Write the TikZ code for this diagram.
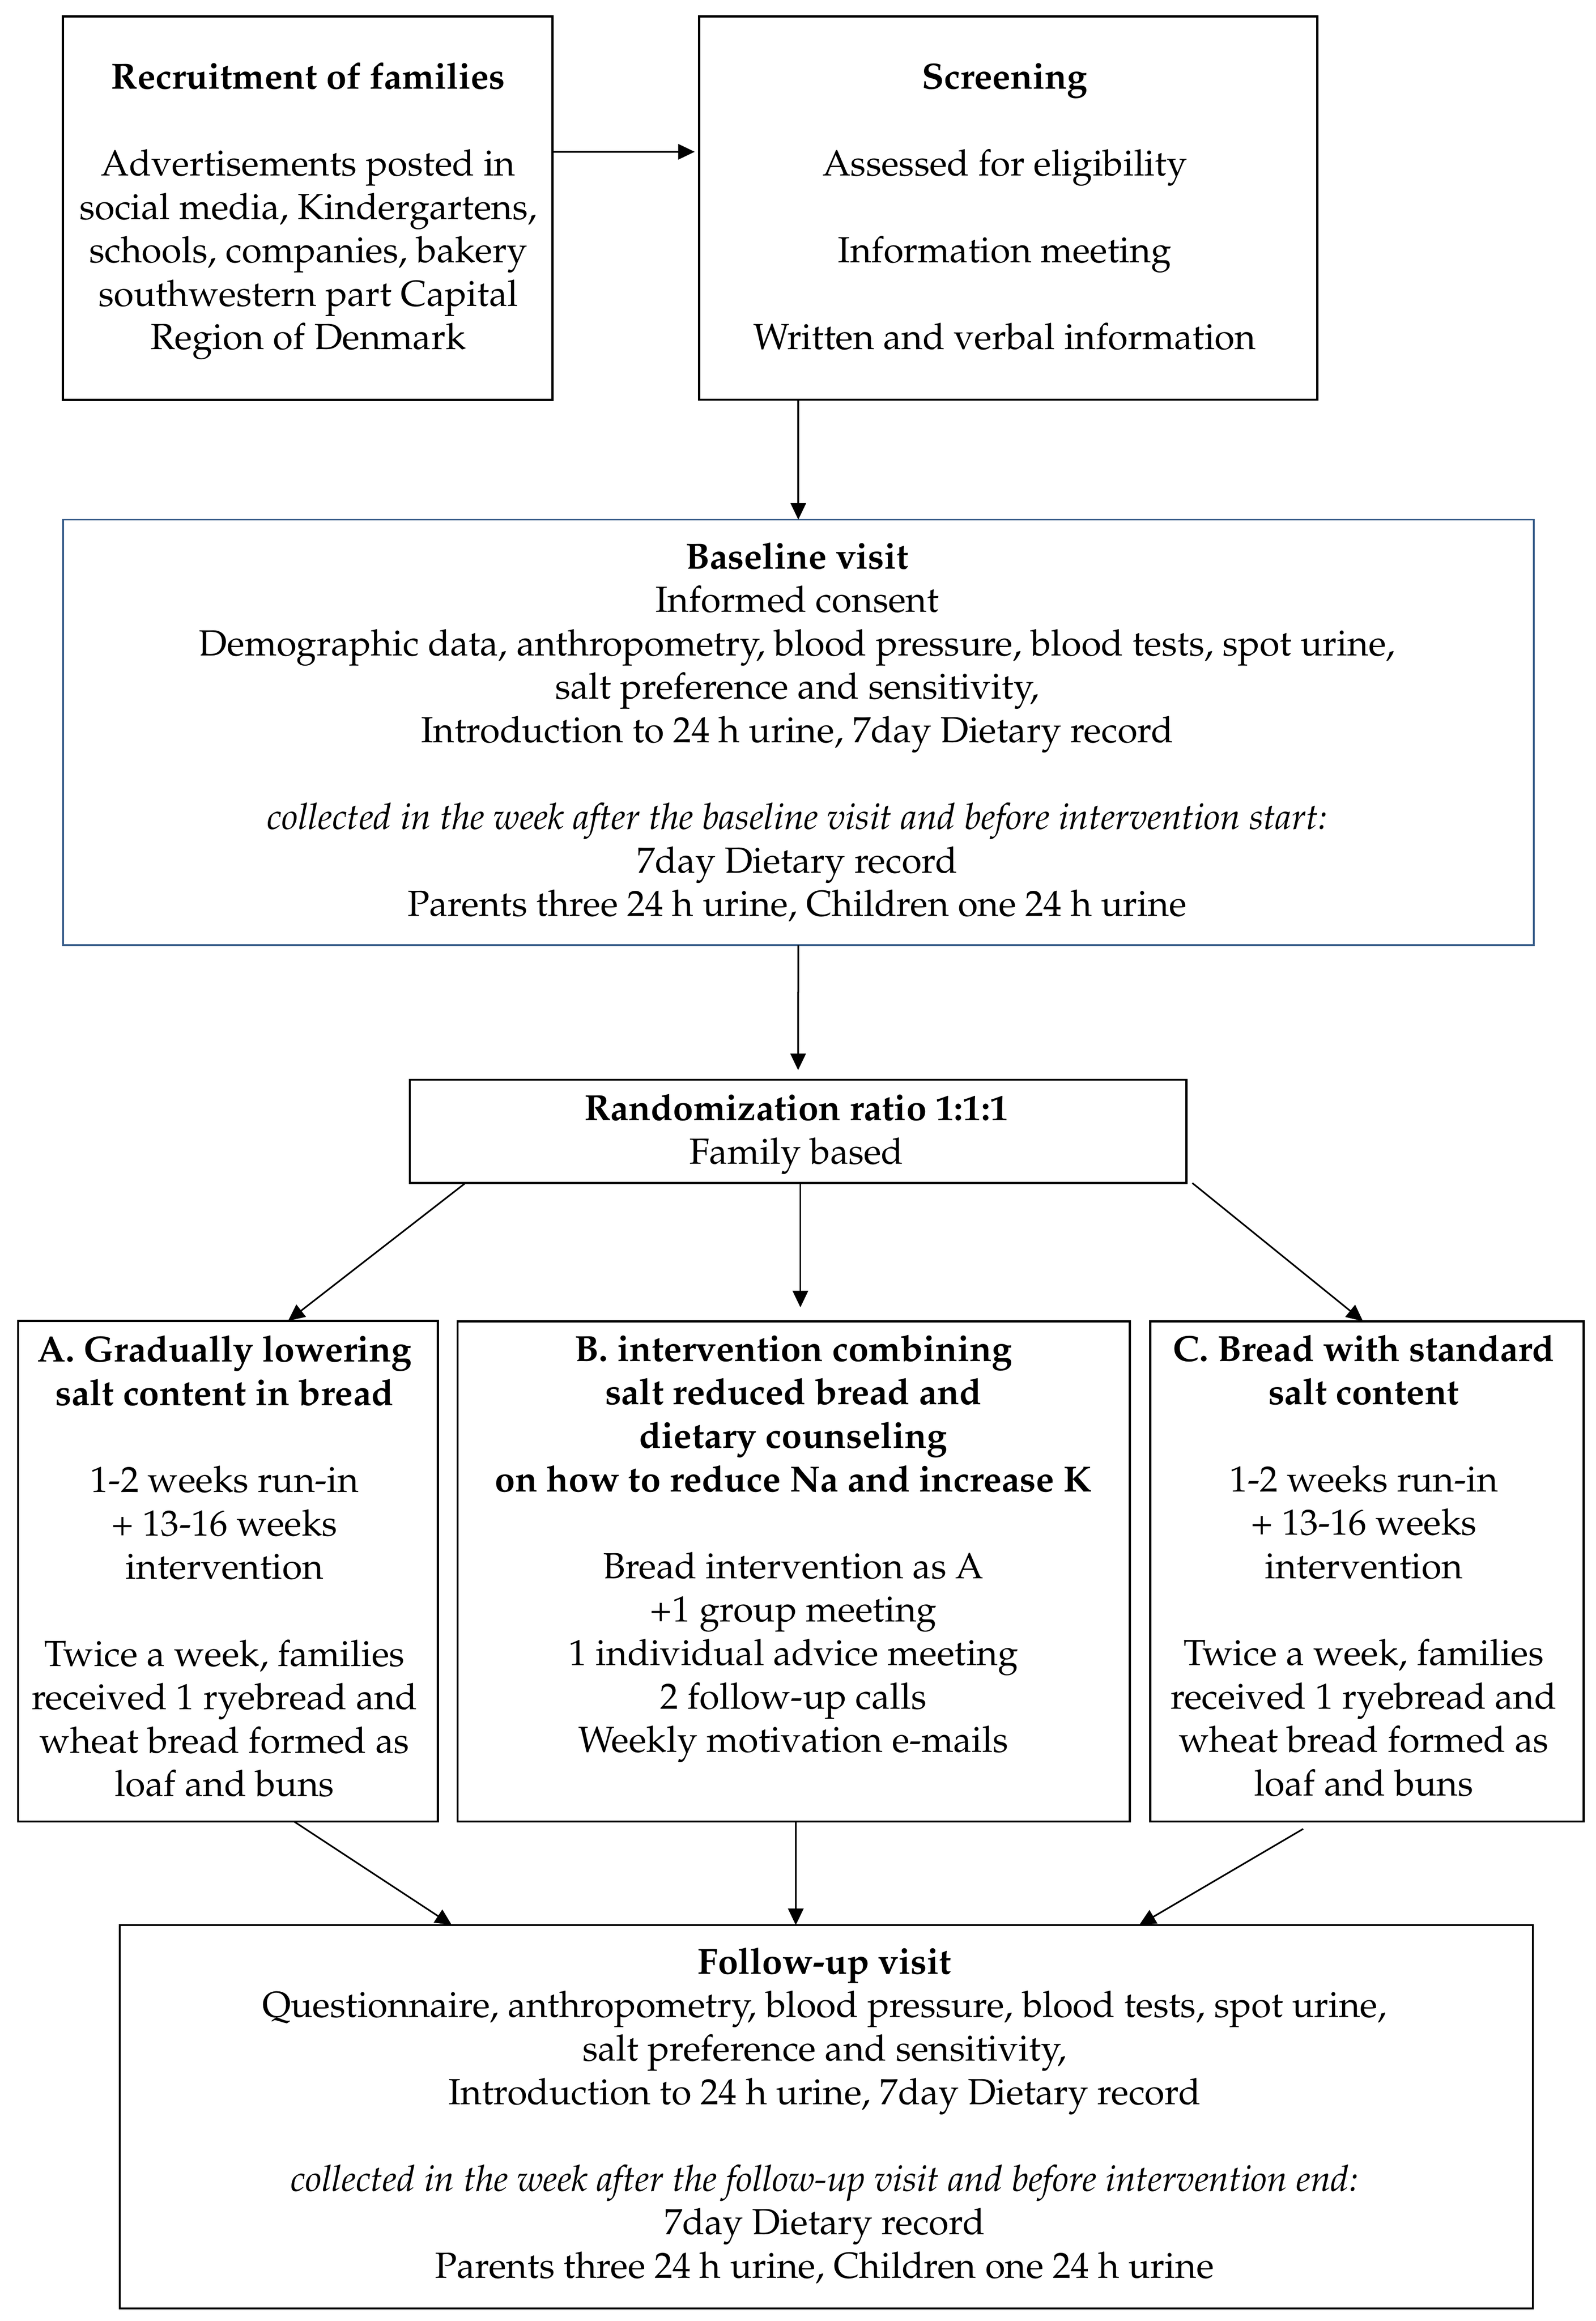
\documentclass[tikz,border=0pt]{standalone}
\usepackage[T1]{fontenc}
\renewcommand{\rmdefault}{ppl}
\usetikzlibrary{arrows.meta,calc}
\definecolor{boxblue}{HTML}{385D8A}
\newcommand{\gp}{\\[14.7pt]}
\tikzset{
  box/.style={draw, line width=0.7pt, inner sep=0pt, outer sep=0pt, anchor=north west},
  txt/.style={align=center, anchor=base, inner sep=0pt, font=\fontsize{12.3}{14.7}\selectfont},
  arr/.style={-{Triangle[length=5.6pt,width=5.2pt]}, line width=0.55pt},
}
\begin{document}
\begin{tikzpicture}[x=0.5pt,y=-0.5pt]
\useasboundingbox (0,0) rectangle (1080,1570.5);
% boxes
\node[box, minimum width=165.7pt, minimum height=129.7pt] (rec) at (42.6,11.2) {};
\node[box, minimum width=209.15pt, minimum height=129.65pt] (scr) at (473.2,11.2) {};
\node[box, draw=boxblue, line width=0.6pt, minimum width=497.7pt, minimum height=144pt] (base) at (42.6,351.6) {};
\node[box, minimum width=262.85pt, minimum height=35pt] (rand) at (277.3,730.5) {};
\node[box, minimum width=142.05pt, minimum height=169.4pt] (A) at (12.2,893.7) {};
\node[box, minimum width=227.5pt, minimum height=169.25pt] (B) at (309.7,894) {};
\node[box, minimum width=146.65pt, minimum height=169.25pt] (C) at (778.5,894) {};
\node[box, minimum width=478.25pt, minimum height=129.7pt] (F) at (81,1302.6) {};
% texts (anchor base = baseline of the last line)
\node[txt] (recT) at (208.6,236.5) {\textbf{Recruitment of families}\gp
Advertisements posted in\\
social media, Kindergartens,\\
schools, companies, bakery\\
southwestern part Capital\\
Region of Denmark};
\node[txt] (scrT) at (680,236.5) {\textbf{Screening}\gp
Assessed for eligibility\gp
Information meeting\gp
Written and verbal information};
\node[txt] (baseT) at (539.5,620) {\textbf{Baseline visit}\\
Informed consent\\
Demographic data, anthropometry, blood pressure, blood tests, spot urine,\\
salt preference and sensitivity,\\
Introduction to 24 h urine, 7day Dietary record\gp
\textit{collected in the week after the baseline visit and before intervention start:}\\
7day Dietary record\\
Parents three 24 h urine, Children one 24 h urine};
\node[txt] (randT) at (539,787.5) {\textbf{Randomization ratio 1:1:1}\\
Family based};
\node[txt] (AT) at (152,1215.5) {\textbf{A. Gradually lowering}\\
\textbf{salt content in bread}\gp
1-2 weeks run-in\\
+ 13-16 weeks\\
intervention\gp
Twice a week, families\\
received 1 ryebread and\\
wheat bread formed as\\
loaf and buns};
\node[txt] (BT) at (537,1185.6) {\textbf{B. intervention combining}\\
\textbf{salt reduced bread and}\\
\textbf{dietary counseling}\\
\textbf{on how to reduce Na and increase K}\gp
Bread intervention as A\\
+1 group meeting\\
1 individual advice meeting\\
2 follow-up calls\\
Weekly motivation e-mails};
\node[txt] (CT) at (923,1215) {\textbf{C. Bread with standard}\\
\textbf{salt content}\gp
1-2 weeks run-in\\
+ 13-16 weeks\\
intervention\gp
Twice a week, families\\
received 1 ryebread and\\
wheat bread formed as\\
loaf and buns};
\node[txt] (FT) at (558,1541.4) {\textbf{Follow-up visit}\\
Questionnaire, anthropometry, blood pressure, blood tests, spot urine,\\
salt preference and sensitivity,\\
Introduction to 24 h urine, 7day Dietary record\gp
\textit{collected in the week after the follow-up visit and before intervention end:}\\
7day Dietary record\\
Parents three 24 h urine, Children one 24 h urine};
% connectors
\draw[arr] ($(rec.north east)+(0,91.5)$) -- ($(scr.north west)+(-3,91.5)$);
\draw[arr] (scr.south -| base.north) -- (base.north);
\draw[arr, shorten >=3.2pt] (base.south) -- (rand.north);
\draw[arr] ($(rand.south west)+(37.7,0)$) -- ($(A.north west)+(182.8,0)$);
\draw[arr, shorten >=4.7pt] ($(B.north west)+(232,-93.5)$) -- ($(B.north west)+(232,0)$);
\draw[arr] ($(rand.south east)+(4,0)$) -- ($(C.north west)+(144,0)$);
\draw[arr] ($(A.south west)+(186.8,0)$) -- ($(F.north west)+(224.8,0)$);
\draw[arr] ($(B.south west)+(228.9,0)$) -- ($(F.north west)+(457.6,0)$);
\draw[arr] ($(C.south west)+(103.5,5)$) -- ($(F.north west)+(690,0)$);
\end{tikzpicture}
\end{document}
